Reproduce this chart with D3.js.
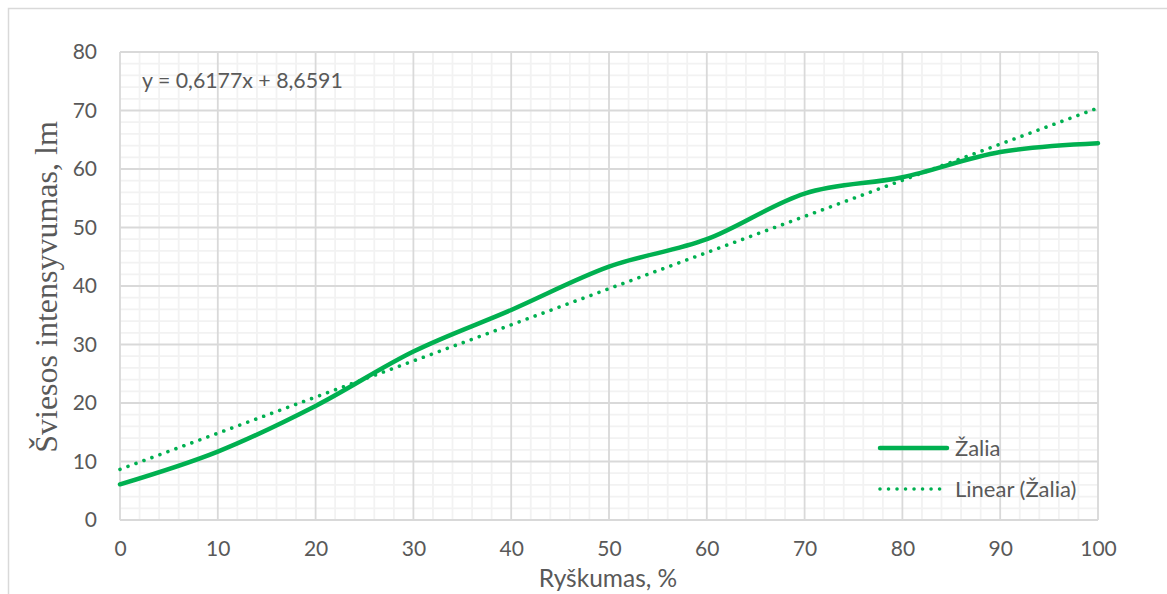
<!DOCTYPE html>
<html>
<head>
<meta charset="utf-8">
<script src="https://cdn.jsdelivr.net/npm/d3@7"></script>
<style>
  html, body { margin: 0; padding: 0; background: #ffffff; }
  svg { display: block; }
</style>
</head>
<body>
<svg id="chart" width="1167" height="594"></svg>
<script>
// Brightness (%) vs. measured light output for the green channel
const brightness = [0, 10, 20, 30, 40, 50, 60, 70, 80, 90, 100];
const greenLm    = [6.1, 11.7, 19.5, 28.8, 35.9, 43.3, 48.0, 55.8, 58.6, 62.9, 64.4];

// Linear trend coefficients as printed on the chart
const trendSlope = [0.6177];
const trendIntercept = [8.6591];

const xTicks = [0, 10, 20, 30, 40, 50, 60, 70, 80, 90, 100];
const yTicks = [0, 10, 20, 30, 40, 50, 60, 70, 80];
const seriesNames = ["Žalia", "Linear (Žalia)"];

const equationText = "y = " + String(trendSlope[0]).replace(".", ",") + "x + " +
                     String(trendIntercept[0]).replace(".", ",");

const W = 1167, H = 594;
const plot = { left: 120, right: 1098, top: 52, bottom: 520 };
const GREEN = "#00B050";
const TEXT = "#595959";
const SANS = "Lato, 'Open Sans', sans-serif";

const svg = d3.select("#chart");

// Chart area border (only the top and left edges fall inside the frame)
svg.append("path")
  .attr("d", `M8.5,${H} L8.5,8.5 L${W},8.5`)
  .attr("fill", "none")
  .attr("stroke", "#d9d9d9")
  .attr("stroke-width", 1.5);

const x = d3.scaleLinear().domain([0, 100]).range([plot.left, plot.right]);
const y = d3.scaleLinear().domain([0, 80]).range([plot.bottom, plot.top]);

// Minor gridlines every 2 units
const minorX = d3.range(0, 101, 2).filter(v => v % 10 !== 0);
const minorY = d3.range(0, 81, 2).filter(v => v % 10 !== 0);
const grid = svg.append("g");
grid.selectAll("line.mx").data(minorX).join("line")
  .attr("x1", d => x(d)).attr("x2", d => x(d))
  .attr("y1", plot.top).attr("y2", plot.bottom)
  .attr("stroke", "#f2f2f2").attr("stroke-width", 1.8);
grid.selectAll("line.my").data(minorY).join("line")
  .attr("x1", plot.left).attr("x2", plot.right)
  .attr("y1", d => y(d)).attr("y2", d => y(d))
  .attr("stroke", "#f2f2f2").attr("stroke-width", 1.8);

// Major gridlines every 10 units
grid.selectAll("line.Mx").data(xTicks).join("line")
  .attr("x1", d => x(d)).attr("x2", d => x(d))
  .attr("y1", plot.top).attr("y2", plot.bottom)
  .attr("stroke", "#d9d9d9").attr("stroke-width", 1.8);
grid.selectAll("line.My").data(yTicks).join("line")
  .attr("x1", plot.left).attr("x2", plot.right)
  .attr("y1", d => y(d)).attr("y2", d => y(d))
  .attr("stroke", "#d9d9d9").attr("stroke-width", 1.8);

// Axis tick labels
const yAxis = d3.axisLeft(y).tickValues(yTicks).tickSize(0).tickPadding(23);
const gy = svg.append("g").attr("transform", `translate(${plot.left},0)`).call(yAxis);
const xAxis = d3.axisBottom(x).tickValues(xTicks).tickSize(0).tickPadding(21);
const gx = svg.append("g").attr("transform", `translate(0,${plot.bottom})`).call(xAxis);
[gx, gy].forEach(g => {
  g.select(".domain").remove();
  g.selectAll("text")
    .attr("fill", TEXT)
    .style("font-family", SANS)
    .style("font-size", "21px");
});

// Axis titles
svg.append("text")
  .attr("x", 608).attr("y", 587)
  .attr("text-anchor", "middle")
  .attr("fill", TEXT)
  .style("font-family", SANS)
  .style("font-size", "24.5px")
  .text("Ryškumas, %");

svg.append("text")
  .attr("transform", "translate(57,287) rotate(-90)")
  .attr("text-anchor", "middle")
  .attr("fill", TEXT)
  .style("font-family", "'Liberation Serif', 'Times New Roman', serif")
  .style("font-size", "32px")
  .text("Šviesos intensyvumas, lm");

// Measured series, smoothed
const pts = brightness.map((b, i) => [b, greenLm[i]]);
const line = d3.line()
  .x(d => x(d[0])).y(d => y(d[1]))
  .curve(d3.curveCardinal.tension(0));
svg.append("path")
  .datum(pts)
  .attr("d", line)
  .attr("fill", "none")
  .attr("stroke", GREEN)
  .attr("stroke-width", 4.5)
  .attr("stroke-linecap", "round");

// Linear trend from the printed coefficients
const trend = [0, 100].map(b => [b, trendSlope[0] * b + trendIntercept[0]]);
svg.append("path")
  .datum(trend)
  .attr("d", d3.line().x(d => x(d[0])).y(d => y(d[1])))
  .attr("fill", "none")
  .attr("stroke", GREEN)
  .attr("stroke-width", 3.6)
  .attr("stroke-linecap", "round")
  .attr("stroke-dasharray", "0.01 8.5");

// Trend equation
svg.append("text")
  .attr("x", 142).attr("y", 88)
  .attr("fill", TEXT)
  .style("font-family", SANS)
  .style("font-size", "21.3px")
  .text(equationText);

// Legend
const legend = svg.append("g");
const legendRows = [
  { name: seriesNames[0], y: 448, dash: null, width: 4.5 },
  { name: seriesNames[1], y: 489, dash: "0.01 8.5", width: 3.6 }
];
legendRows.forEach(r => {
  legend.append("line")
    .attr("x1", 880).attr("x2", 947)
    .attr("y1", r.y).attr("y2", r.y)
    .attr("stroke", GREEN)
    .attr("stroke-width", r.width)
    .attr("stroke-linecap", "round")
    .attr("stroke-dasharray", r.dash);
  legend.append("text")
    .attr("x", 955).attr("y", r.y)
    .attr("dy", "0.35em")
    .attr("fill", TEXT)
    .style("font-family", SANS)
    .style("font-size", "22px")
    .text(r.name);
});
</script>
</body>
</html>
